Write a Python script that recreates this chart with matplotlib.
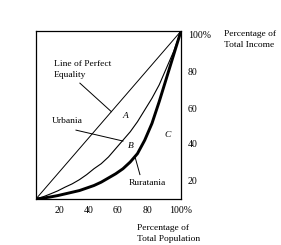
"""Lorenz curves for Urbania and Ruratania, redrawn from a textbook figure."""

import matplotlib
matplotlib.use("Agg")
import matplotlib.pyplot as plt

# cumulative % of population / % of income
population = [0, 5, 10, 15, 20, 25, 30, 35, 40, 45, 50,
              55, 60, 65, 70, 75, 80, 85, 90, 95, 100]
equality = population
urbania = [0, 1.3, 3, 4.8, 7, 9, 11.5, 14.5, 18, 21, 25,
           30, 35, 40, 46, 53, 60, 68, 78, 88, 100]
ruratania = [0, 0.5, 1.2, 2, 3, 4, 5, 6.5, 8, 10, 12.5,
             15, 18, 22, 27, 35, 45, 58, 72, 86, 100]

tick_labels = ["20", "40", "60", "80", "100%"]

# the printed tick labels sit a little off the true grid in the original
xlabel_pos = [16.5, 36.5, 56.5, 77, 100]
ylabel_pos = [11, 33, 54, 76, 98]

FONT = "Liberation Serif"
FS = 6.8

fig = plt.figure(figsize=(2.81, 2.45), dpi=100)
ax = fig.add_axes([0.128, 0.188, 0.516, 0.685])

ax.plot(population, equality, color="black", linewidth=0.7)
ax.plot(population, urbania, color="black", linewidth=0.8)
ax.plot(population, ruratania, color="black", linewidth=2.1,
        solid_capstyle="round", solid_joinstyle="round")

ax.set_xlim(0, 100)
ax.set_ylim(0, 100)
for side in ax.spines.values():
    side.set_linewidth(0.9)

ax.set_xticks(xlabel_pos)
ax.set_xticklabels(tick_labels, family=FONT, fontsize=FS + 0.3)
ax.yaxis.tick_right()
ax.set_yticks(ylabel_pos)
ax.set_yticklabels(tick_labels, family=FONT, fontsize=FS + 0.3)
ax.tick_params(length=0, pad=5)

# curve labels with leader lines
ax.text(12.5, 77, "Line of Perfect\nEquality", family=FONT, fontsize=FS,
        va="center", linespacing=1.45)
ax.plot([30.3, 52], [69, 52], color="black", linewidth=0.7)

ax.text(11, 46.5, "Urbania", family=FONT, fontsize=FS, va="center")
ax.plot([27.6, 60], [41, 34.5], color="black", linewidth=0.7)

ax.text(64, 9.5, "Ruratania", family=FONT, fontsize=FS, va="center")
ax.plot([71.7, 68.5], [14.5, 24.5], color="black", linewidth=0.7)

for letter, x, y in [("A", 61.4, 49.4), ("B", 65.5, 31.5), ("C", 91, 38)]:
    ax.text(x, y, letter, family=FONT, fontsize=FS, style="italic",
            ha="center", va="center")

fig.text(0.797, 0.839, "Percentage of\nTotal Income", family=FONT, fontsize=FS,
         va="center", linespacing=1.45)
fig.text(0.488, 0.047, "Percentage of\nTotal Population", family=FONT, fontsize=FS,
         va="center", linespacing=1.45)

fig.savefig("out.png", dpi=100)
